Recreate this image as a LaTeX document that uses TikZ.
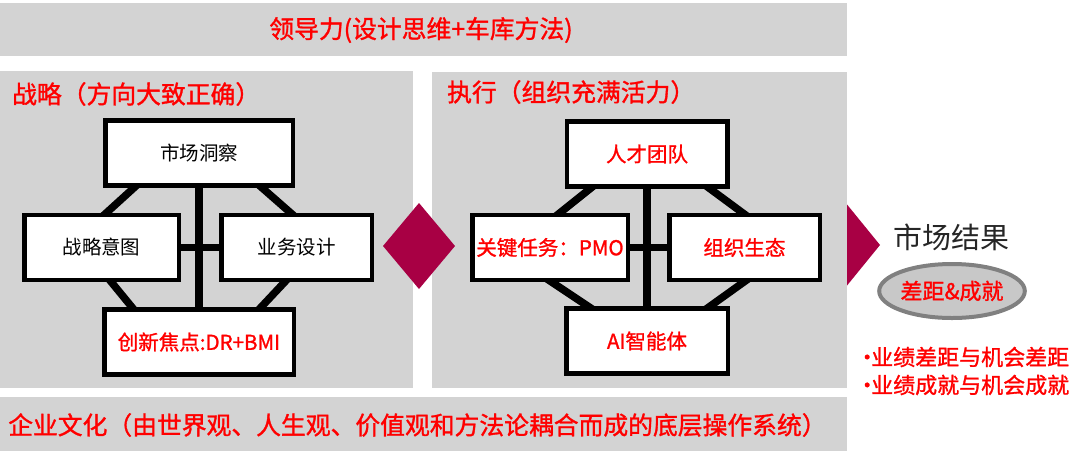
\documentclass[tikz,border=0pt]{standalone}
\usepackage{fontspec}
\setmainfont{Noto Sans CJK SC}
\newfontfamily\medio{Noto Sans CJK SC}[FakeBold=1.2]
\usetikzlibrary{shapes.geometric,backgrounds}
\definecolor{gris}{RGB}{211,211,211}
\definecolor{vino}{RGB}{168,0,68}
\definecolor{rojo}{RGB}{255,0,0}
\newcommand{\tam}[1]{\fontsize{#1}{#1}\selectfont}

\begin{document}
\begin{tikzpicture}[x=1pt, y=-1pt,
    caja/.style={draw, line width=4.5pt, fill=white, inner sep=0pt, minimum height=65pt},
    cajaroja/.style={caja, text=rojo, font=\medio\tam{20.5}},
    enlace/.style={line width=7.5pt, shorten <=-6pt, shorten >=-6pt},
    titulo/.style={text=rojo, font=\medio\tam{24.8}, inner sep=0pt}
  ]
  \useasboundingbox (0,0) rectangle (1080,451);

  %Fondos grises
  \begin{scope}[on background layer]
    \fill[vino] (845,202) -- (880,245) -- (845,288) -- cycle;
    \fill[gris] (0,3) rectangle (847,56);
    \fill[gris] (0,71) rectangle (413,388);
    \fill[gris] (432,72) rectangle (847,388);
    \fill[gris] (0,397) rectangle (847,451);
  \end{scope}
  \fill[vino] (383,246) -- (419,203) -- (455,246) -- (419,289) -- cycle;

  %Titulos
  \node[titulo] (lider) at (421,30) {领导力(设计思维+车库方法)};
  \node[titulo, anchor=west] (estrategia) at (12,94) {战略（方向大致正确）};
  \node[titulo, anchor=west] (ejecucion) at (447,92) {执行（组织充满活力）};
  \node[titulo, anchor=west] (cultura) at (8,425) {企业文化（由世界观、人生观、价值观和方法论耦合而成的底层操作系统）};

  %Cajas de la estrategia
  \node[caja, minimum width=187.5pt, font=\tam{19.5}] (mercado) at (199,153) {市场洞察};
  \node[caja, minimum width=154.5pt, font=\tam{19.5}] (intencion) at (101.5,247.5) {战略意图};
  \node[caja, minimum width=150.5pt, font=\tam{19.5}] (diseno) at (296.5,247.5) {业务设计};
  \node[cajaroja, minimum width=189.5pt] (innovacion) at (199,342) {创新焦点:DR+BMI};
  %Enlaces de la estrategia
  \begin{scope}[on background layer]
    \draw[enlace] (mercado.south) -- (innovacion.north);
    \draw[enlace] (intencion.east) -- (diseno.west);
    \draw[enlace] ([xshift=-65pt]mercado.south) -- ([xshift=5pt]intencion.north);
    \draw[enlace] ([xshift=63pt]mercado.south) -- ([xshift=-6pt]diseno.north);
    \draw[enlace] ([xshift=10pt]intencion.south) -- ([xshift=-67pt]innovacion.north);
    \draw[enlace] ([xshift=-12pt]diseno.south) -- ([xshift=62pt]innovacion.north);
  \end{scope}

  %Cajas de la ejecucion
  \node[cajaroja, minimum width=160.5pt] (talento) at (647,154) {人才团队};
  \node[cajaroja, minimum width=155.5pt] (tarea) at (550,247.5) {关键任务：PMO};
  \node[cajaroja, minimum width=150.5pt] (ecologia) at (744.5,247.5) {组织生态};
  \node[cajaroja, minimum width=161.5pt] (agente) at (647,341) {AI智能体};
  %Enlaces de la ejecucion
  \begin{scope}[on background layer]
    \draw[enlace] (talento.south) -- (agente.north);
    \draw[enlace] (tarea.east) -- (ecologia.west);
    \draw[enlace] ([xshift=-57pt]talento.south) -- ([xshift=10pt]tarea.north);
    \draw[enlace] ([xshift=63pt]talento.south) -- ([xshift=-2pt]ecologia.north);
    \draw[enlace] ([xshift=2pt]tarea.south) -- ([xshift=-59pt]agente.north);
    \draw[enlace] ([xshift=-1pt]ecologia.south) -- ([xshift=63pt]agente.north);
  \end{scope}

  %Resultado del mercado
  \node[font=\tam{29}, text=black!85] (resultado) at (951,237) {市场结果};
  \node[ellipse, draw=gray, line width=4pt, fill={rgb,255:red,200;green,200;blue,200},
        minimum width=140pt, minimum height=54pt, inner sep=0pt,
        font=\medio\tam{22}, text=rojo] (brecha) at (952,291) {差距\&成就};
  \node[anchor=west, inner sep=0pt, font=\medio\tam{22}, text=rojo] (punto1) at (856,357) {·\kern-7pt 业绩差距与机会差距};
  \node[anchor=west, inner sep=0pt, font=\medio\tam{22}, text=rojo] (punto2) at (856,385) {·\kern-7pt 业绩成就与机会成就};

\end{tikzpicture}
\end{document}
